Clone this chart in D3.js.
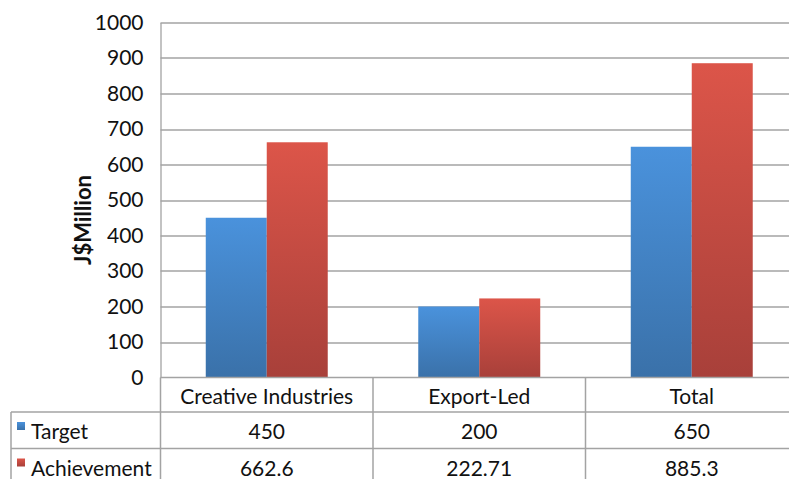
<!DOCTYPE html>
<html>
<head>
<meta charset="utf-8">
<script src="https://cdn.jsdelivr.net/npm/d3@7"></script>
<style>
  html, body { margin: 0; padding: 0; background: #fff; overflow: hidden; }
  svg { display: block; font-family: Lato, "Open Sans", sans-serif; }
</style>
</head>
<body>
<svg id="chart" width="789" height="479"></svg>
<script>
// Chart data
const categories = ["Creative Industries", "Export-Led", "Total"];
const seriesNames = ["Target", "Achievement"];
const targetValues = [450, 200, 650];
const achievementValues = [662.6, 222.71, 885.3];
const targetLabels = ["450", "200", "650"];
const achievementLabels = ["662.6", "222.71", "885.3"];
const yTicks = [0, 100, 200, 300, 400, 500, 600, 700, 800, 900, 1000];

const colors = {
  Target: ["#4a92dc", "#3a71a9"],
  Achievement: ["#dc5549", "#a8403a"]
};

const series = [
  { name: "Target", values: targetValues, labels: targetLabels },
  { name: "Achievement", values: achievementValues, labels: achievementLabels }
];

// Layout (plot runs past the right edge of the picture, like the source)
const margin = { top: 22.5, left: 160.5 };
const plotW = 637.5;
const plotH = 355;
const rowH = 36.5;
const tableLeft = 11;
const fontSize = 21;

const svg = d3.select("#chart");
const defs = svg.append("defs");

series.forEach(s => {
  const grad = defs.append("linearGradient")
      .attr("id", "grad-" + s.name)
      .attr("x1", 0).attr("y1", 0).attr("x2", 0).attr("y2", 1);
  grad.append("stop").attr("offset", "0%").attr("stop-color", colors[s.name][0]);
  grad.append("stop").attr("offset", "100%").attr("stop-color", colors[s.name][1]);
});

const g = svg.append("g").attr("transform", `translate(${margin.left},${margin.top})`);

// Scales
const x0 = d3.scaleBand().domain(categories).range([0, plotW]).padding(0);
const groupScale = d3.scaleBand().domain(categories).range([0, plotW])
    .paddingInner(0.426).paddingOuter(0.213);
const x1 = d3.scaleBand().domain(seriesNames).range([0, groupScale.bandwidth()]);
const y = d3.scaleLinear().domain([0, 1000]).range([plotH, 0]);

// Gridlines
g.append("g")
  .selectAll("line")
  .data(yTicks.filter(d => d > 0))
  .join("line")
    .attr("x1", 0).attr("x2", plotW)
    .attr("y1", d => Math.round(y(d)) + 0.5)
    .attr("y2", d => Math.round(y(d)) + 0.5)
    .attr("stroke", "#a3a3a3")
    .attr("stroke-width", 1.3);

// Y axis
const yAxis = g.append("g")
    .call(d3.axisLeft(y).tickValues(yTicks).tickFormat(d3.format("d")).tickSize(0).tickPadding(17));
yAxis.select(".domain").attr("stroke", "#a3a3a3").attr("stroke-width", 1.3);
yAxis.selectAll("text")
    .attr("font-size", fontSize)
    .attr("fill", "#111")
    .attr("font-family", "Lato, sans-serif");

// Bars
const groups = g.append("g")
  .selectAll("g")
  .data(categories)
  .join("g")
    .attr("transform", d => `translate(${groupScale(d)},0)`);

groups.selectAll("rect")
  .data((c, i) => series.map(s => ({ name: s.name, value: s.values[i] })))
  .join("rect")
    .attr("x", d => x1(d.name))
    .attr("y", d => y(d.value))
    .attr("width", x1.bandwidth())
    .attr("height", d => plotH - y(d.value))
    .attr("fill", d => `url(#grad-${d.name})`);

// Y axis title
svg.append("text")
    .attr("transform", "translate(91,220) rotate(-90)")
    .attr("text-anchor", "middle")
    .attr("font-size", 22)
    .attr("font-weight", "bold")
    .attr("fill", "#111")
    .text("J$Million");

// Data table
const table = svg.append("g").attr("transform", `translate(0,${margin.top + plotH})`);
const lineColor = "#a3a3a3";

// horizontal lines
table.append("line")
    .attr("x1", margin.left).attr("x2", margin.left + plotW)
    .attr("y1", 0).attr("y2", 0)
    .attr("stroke", lineColor).attr("stroke-width", 1.5);
[1, 2].forEach(r => {
  table.append("line")
      .attr("x1", tableLeft).attr("x2", margin.left + plotW)
      .attr("y1", r * rowH - 2).attr("y2", r * rowH - 2)
      .attr("stroke", lineColor).attr("stroke-width", 1.5);
});
// vertical lines
table.append("line")
    .attr("x1", tableLeft).attr("x2", tableLeft)
    .attr("y1", rowH - 2).attr("y2", 3 * rowH)
    .attr("stroke", lineColor).attr("stroke-width", 1.5);
categories.forEach(c => {
  table.append("line")
      .attr("x1", margin.left + x0(c)).attr("x2", margin.left + x0(c))
      .attr("y1", 0).attr("y2", 3 * rowH)
      .attr("stroke", lineColor).attr("stroke-width", 1.5);
});

// category row
table.selectAll(".cat")
  .data(categories)
  .join("text")
    .attr("class", "cat")
    .attr("x", d => margin.left + x0(d) + x0.bandwidth() / 2)
    .attr("y", rowH / 2 + 8)
    .attr("text-anchor", "middle")
    .attr("font-size", fontSize)
    .attr("fill", "#111")
    .text(d => d);

// value rows with legend keys
series.forEach((s, r) => {
  const rowY = (r + 1) * rowH - 2;
  table.append("rect")
      .attr("x", 17).attr("y", rowY + 10)
      .attr("width", 8).attr("height", 8)
      .attr("fill", `url(#grad-${s.name})`);
  table.append("text")
      .attr("x", 31).attr("y", rowY + rowH / 2 + 9)
      .attr("font-size", fontSize)
      .attr("fill", "#111")
      .text(s.name);
  table.selectAll(".v" + r)
    .data(categories)
    .join("text")
      .attr("x", d => margin.left + x0(d) + x0.bandwidth() / 2)
      .attr("y", rowY + rowH / 2 + 9)
      .attr("text-anchor", "middle")
      .attr("font-size", fontSize)
      .attr("fill", "#111")
      .text((d, i) => s.labels[i]);
});
</script>
</body>
</html>
